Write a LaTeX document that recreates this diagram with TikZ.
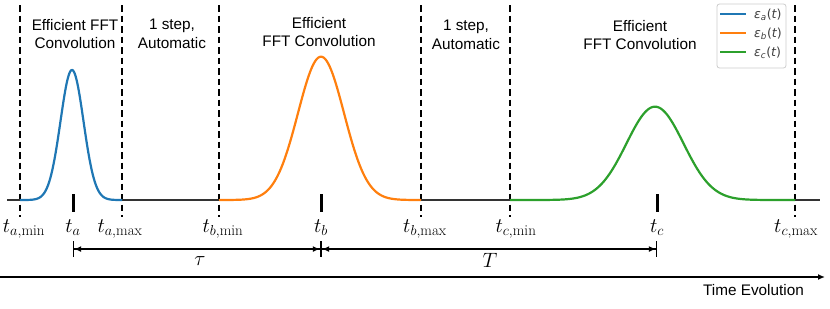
\documentclass[tikz,border=0pt]{standalone}
\usepackage{fontspec}
\setsansfont{Liberation Sans}
\newfontfamily\legfont{DejaVu Sans}
\usetikzlibrary{arrows.meta}
\definecolor{cblue}{HTML}{1F77B4}
\definecolor{corange}{HTML}{FF7F0E}
\definecolor{cgreen}{HTML}{2CA02C}
\definecolor{cbase}{HTML}{333333}
\begin{document}
\begin{tikzpicture}[x=1pt,y=-1pt,
  vdash/.style={line width=1.5pt, dash pattern=on 6.5pt off 4pt},
  curve/.style={line width=2.2pt, line join=round},
  baseseg/.style={cbase, line width=1.6pt},
  tickmark/.style={line width=3pt},
  tlabel/.style={font=\fontsize{21.5}{26}\selectfont, anchor=base, inner sep=0pt},
  region/.style={font=\sffamily\fontsize{15.3}{18.5}\selectfont, align=center, anchor=north, inner sep=0pt},
  spanarrow/.style={line width=1.2pt, {Bar[width=16pt]Latex[length=7pt,width=6pt]}-{Latex[length=7pt,width=6pt]Bar[width=16pt]}},
  legtext/.style={font=\legfont\fontsize{12.5}{14}\selectfont, text=black!75, anchor=west, inner sep=0pt},
  legline/.style={line width=2pt},
]
\useasboundingbox (0,0) rectangle (830,308);

% dashed boundaries
\foreach \n/\xx in {d1/20,d2/122,d3/219,d4/421,d5/510,d6/795}{
  \coordinate (\n top) at (\xx,5);
  \coordinate (\n bot) at (\xx,217);
  \draw[vdash] (\n top) -- (\n bot);
}

% baseline segments
\coordinate (b0) at (7,200);
\coordinate (b1) at (20,200);
\coordinate (b2) at (122,200);
\coordinate (b3) at (219,200);
\coordinate (b4) at (421,200);
\coordinate (b5) at (510,200);
\coordinate (b6) at (795,200);
\coordinate (b7) at (820,200);
\draw[baseseg] (b0) -- (b1);
\draw[baseseg] (b2) -- (b3);
\draw[baseseg] (b4) -- (b5);
\draw[baseseg] (b6) -- (b7);

% pulses
\draw[curve, cblue] plot[domain=20:122, samples=150] (\x, {200-130*exp(-(((\x-72)/16.26)^2))});
\draw[curve, corange] plot[domain=219:421, samples=200] (\x, {200-143.3*exp(-(((\x-321)/32.53)^2))});
\draw[curve, cgreen] plot[domain=510:795, samples=250] (\x, {200-93.3*exp(-(((\x-655)/40.31)^2))});

% tick marks at centres
\foreach \n/\xx in {ka/73,kb/321,kc/657}{
  \coordinate (\n1) at (\xx,194);
  \coordinate (\n2) at (\xx,212);
  \draw[tickmark] (\n1) -- (\n2);
}

% time labels
\node[tlabel] (lamin) at (24,232) {$t_{a,\min}$};
\node[tlabel] (la) at (73,232) {$t_a$};
\node[tlabel] (lamax) at (120,232) {$t_{a,\max}$};
\node[tlabel] (lbmin) at (223,232) {$t_{b,\min}$};
\node[tlabel] (lb) at (321,232) {$t_b$};
\node[tlabel] (lbmax) at (425,232) {$t_{b,\max}$};
\node[tlabel] (lcmin) at (516,232) {$t_{c,\min}$};
\node[tlabel] (lc) at (657,232) {$t_c$};
\node[tlabel] (lcmax) at (796,232) {$t_{c,\max}$};

% region texts
\node[region] (r1) at (75,19) {Efficient FFT\\Convolution};
\node[region] (r2) at (172,19) {1 step,\\Automatic};
\node[region] (r3) at (319,17) {Efficient\\FFT Convolution};
\node[region] (r4) at (466,20) {1 step,\\Automatic};
\node[region] (r5) at (640,20) {Efficient\\FFT Convolution};

% spans
\coordinate (sa) at (73,249);
\coordinate (sb) at (321,249);
\coordinate (sc) at (657,249);
\draw[spanarrow] (sa) -- (sb);
\draw[spanarrow] (sb) -- (sc);
\node[tlabel] (tau) at (200,265) {$\tau$};
\node[tlabel] (bigT) at (490,267) {$T$};

% time axis
\coordinate (ax0) at (0,277);
\coordinate (ax1) at (825,277);
\draw[line width=2pt, -{Latex[length=7pt,width=6pt]}] (ax0) -- (ax1);
\node[font=\sffamily\fontsize{15.3}{18.5}\selectfont, anchor=base, inner sep=0pt] (tev) at (753.5,295) {Time Evolution};

% legend
\node[draw=black!20, fill=white, rounded corners=2.5pt, line width=0.8pt, minimum width=69pt, minimum height=64pt, inner sep=0pt] (legbox) at (751.5,36) {};
\foreach \n/\yy/\cc/\ss in {la/14/cblue/a, lb/33/corange/b, lc/52/cgreen/c}{
  \coordinate (\n s) at (720,\yy);
  \coordinate (\n e) at (746,\yy);
  \draw[legline, \cc] (\n s) -- (\n e);
  \node[legtext] (\n t) at (754,\yy+1) {\itshape ε\textsubscript{\ss}\upshape(\itshape t\upshape)};
}
\end{tikzpicture}
\end{document}
